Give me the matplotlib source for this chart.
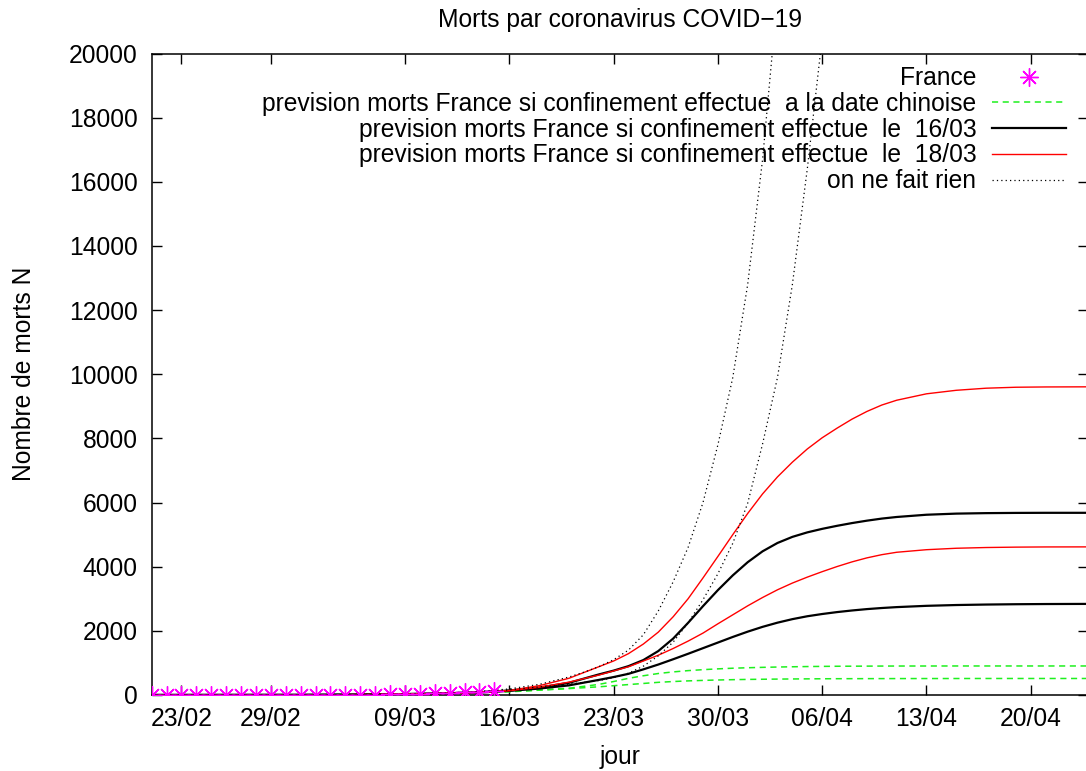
import matplotlib
matplotlib.use('Agg')
import matplotlib.pyplot as plt

plt.rcParams['font.family'] = ['Liberation Sans', 'DejaVu Sans']

# day index 0 = 21/02
tick_pos = [2, 8, 17, 24, 31, 38, 45, 52, 59]
tick_labels = ['23/02', '29/02', '09/03', '16/03', '23/03', '30/03', '06/04', '13/04', '20/04']

france_days = list(range(24))
france_deaths = [1, 1, 1, 1, 1, 2, 2, 2, 2, 2, 3, 4, 4, 6, 9, 11, 19, 25, 33, 48, 61, 79, 91, 127]

days = [0, 10, 15, 18, 20, 22, 24, 26, 28, 30, 31, 32, 33, 34, 35, 36, 37, 38, 39, 40,
        41, 42, 43, 44, 45, 46, 47, 48, 49, 50, 52, 54, 56, 58, 60, 62.84]

green_hi = [1, 4, 15, 35, 50, 75, 110, 155, 210, 330, 420, 520, 600, 670, 720, 760, 790, 815, 835, 850,
            862, 872, 880, 887, 892, 896, 898, 900, 902, 903, 904, 905, 905, 905, 905, 905]
green_lo = [1, 4, 15, 35, 50, 72, 100, 150, 200, 255, 290, 325, 360, 395, 420, 440, 455, 468, 478, 486,
            491, 496, 500, 503, 506, 508, 509, 510, 511, 512, 513, 514, 515, 515, 515, 515]
black_hi = [1, 4, 15, 35, 55, 85, 140, 230, 380, 640, 760, 900, 1090, 1370, 1760, 2250, 2770, 3270, 3730, 4140,
            4480, 4740, 4930, 5070, 5180, 5275, 5360, 5435, 5500, 5550, 5620, 5655, 5670, 5677, 5680, 5680]
black_lo = [1, 4, 15, 35, 55, 85, 130, 200, 300, 470, 560, 660, 800, 950, 1115, 1285, 1460, 1635, 1810, 1975,
            2125, 2255, 2365, 2455, 2525, 2585, 2635, 2678, 2712, 2740, 2780, 2805, 2820, 2830, 2836, 2840]
red_hi = [1, 4, 15, 35, 55, 85, 140, 290, 520, 880, 1060, 1290, 1590, 1960, 2440, 3000, 3650, 4320, 5000, 5660,
          6270, 6800, 7260, 7670, 8020, 8320, 8600, 8840, 9040, 9190, 9390, 9500, 9565, 9595, 9604, 9608]
red_lo = [1, 4, 15, 35, 55, 85, 135, 240, 400, 620, 750, 880, 1060, 1240, 1450, 1680, 1930, 2220, 2500, 2780,
          3040, 3280, 3490, 3675, 3845, 4005, 4150, 4275, 4375, 4450, 4530, 4575, 4598, 4610, 4616, 4618]

dot_days = [0, 10, 15, 18, 20, 22, 24, 26, 28, 29, 30, 31, 32, 33, 34, 35, 36, 37, 38, 39, 40, 41, 42, 43, 44, 45, 46]
dot_fast = [1, 4, 15, 40, 65, 110, 190, 330, 560, 710, 880, 1100, 1400, 1880, 2620, 3530, 4600, 6000, 7800, 9900,
            12800, 16700, 21800, 28000, 36000, 46000, 59000]
dot_slow = [1, 4, 15, 38, 60, 100, 160, 250, 340, 395, 450, 540, 680, 900, 1220, 1650, 2250, 2970, 3780, 4730,
            5980, 7830, 9900, 12800, 16400, 20500, 26000]

W, H = 1086, 771
fig = plt.figure(figsize=(W / 100, H / 100), dpi=100)
ax = fig.add_axes([151.7 / W, 1 - 695 / H, (1088 - 151.7) / W, 641.5 / H])

fs = 17.7
green = '#1ef01e'
ax.plot(france_days, france_deaths, ls='none', marker=(8, 2, 0), ms=13, mec='#ff00ff', mew=1.0,
        label='France', zorder=5)
ax.plot(days, green_hi, color=green, ls=(0, (4, 3)), lw=1.1,
        label='prevision morts France si confinement effectue  a la date chinoise')
ax.plot(days, green_lo, color=green, ls=(0, (4, 3)), lw=1.1)
ax.plot(days, black_hi, color='black', lw=1.6,
        label='prevision morts France si confinement effectue  le  16/03')
ax.plot(days, black_lo, color='black', lw=1.6)
ax.plot(days, red_hi, color='red', lw=1.0,
        label='prevision morts France si confinement effectue  le  18/03')
ax.plot(days, red_lo, color='red', lw=1.0)
ax.plot(dot_days, dot_fast, color='black', ls=(0, (1, 2.5)), lw=0.9, label='on ne fait rien')
ax.plot(dot_days, dot_slow, color='black', ls=(0, (1, 2.5)), lw=0.9)

ax.set_xlim(0, 62.84)
ax.set_ylim(0, 20000)
ax.set_xticks(tick_pos)
ax.set_xticklabels(tick_labels)
ax.set_yticks(range(0, 20001, 2000))
ax.tick_params(direction='in', length=7, width=1, top=True, right=True, labelsize=fs)
ax.tick_params(axis='y', pad=10)
ax.tick_params(axis='x', pad=9)
for s in ax.spines.values():
    s.set_linewidth(1.1)

ax.set_title('Morts par coronavirus COVID\u221219', fontsize=fs, pad=19)
ax.set_xlabel('jour', fontsize=fs, labelpad=10)
ax.set_ylabel('Nombre de morts N', fontsize=fs, labelpad=24)

ax.legend(loc='upper right', bbox_to_anchor=((1066 - 151.7) / (1088 - 151.7), 0.98), frameon=False,
          fontsize=fs, markerfirst=False, handlelength=3, handletextpad=0.65, labelspacing=0.07,
          borderpad=0, borderaxespad=0)

fig.savefig('out.png', dpi=100)
